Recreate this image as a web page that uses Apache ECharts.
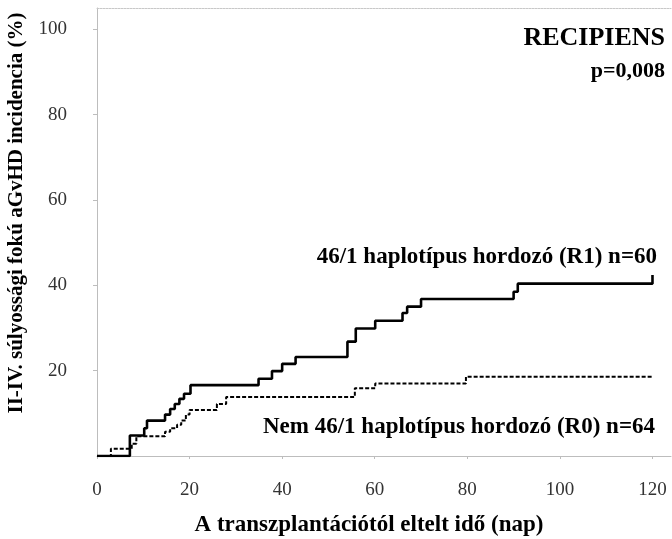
<!DOCTYPE html>
<html>
<head>
<meta charset="utf-8">
<script src="https://cdn.jsdelivr.net/npm/echarts@6/dist/echarts.min.js"></script>
<style>
html,body{margin:0;padding:0;background:#fff;}
#chart{width:672px;height:539px;}
</style>
</head>
<body>
<div id="chart"></div>
<script>
// Data
var r1Days = [0, 7.1, 10.2, 10.8, 14.7, 15.8, 16.8, 17.8, 18.8, 20.2, 34.9, 37.8, 40.0, 42.9, 54.1, 55.9, 60.1, 66.0, 67.0, 70.0, 90.0, 90.9, 120];
var r1Vals = [0, 4.8, 6.5, 8.3, 9.7, 11.0, 12.2, 13.4, 14.6, 16.6, 18.1, 19.9, 21.6, 23.2, 26.8, 29.9, 31.7, 33.5, 35.0, 36.8, 38.5, 40.4, 42.4];
var r0Days = [0, 3.0, 7.5, 8.5, 14.7, 15.8, 17.3, 18.2, 19.2, 20.0, 25.9, 27.9, 55.7, 60.1, 79.7, 120];
var r0Vals = [0, 1.7, 2.9, 4.6, 5.7, 6.5, 7.3, 8.3, 9.7, 10.8, 12.2, 13.8, 15.9, 17.0, 18.6, 18.6];
var xTicks = [0, 20, 40, 60, 80, 100, 120];
var yTicks = [20, 40, 60, 80, 100];
var r1Label = '46/1 haplotípus hordozó (R1) n=60';
var r0Label = 'Nem 46/1 haplotípus hordozó (R0) n=64';
var panelTitle = 'RECIPIENS';
var pValue = 'p=0,008';
var xTitle = 'A transzplantációtól eltelt idő (nap)';
var yTitle = 'II-IV. súlyossági fokú aGvHD incidencia (%)';

function pairs(xs, ys){ return xs.map(function(x,i){ return [x, ys[i]]; }); }

var FONT = '"Liberation Serif","Times New Roman",serif';
var chart = echarts.init(document.getElementById('chart'), null, {renderer:'canvas'});
chart.setOption({
  animation: false,
  backgroundColor: '#fff',
  grid: {left: 97, right: 1, top: 8, bottom: 83},
  xAxis: [{
    type: 'value', min: 0, max: 124,
    axisLine: {show: true, lineStyle: {color: '#bdbdbd', width: 1}},
    axisTick: {show: true, customValues: xTicks, length: 3, lineStyle: {color: '#bdbdbd'}},
    axisLabel: {customValues: xTicks, margin: 25, fontFamily: FONT, fontSize: 19, color: '#333'},
    splitLine: {show: false}
  },{
    type: 'value', min: 0, max: 124, position: 'top',
    axisLine: {show: true, onZero: false, lineStyle: {color: '#c8c8c8', width: 1, type: [2,1]}},
    axisTick: {show: false}, axisLabel: {show: false}, splitLine: {show: false}
  }],
  yAxis: {
    type: 'value', min: 0, max: 105,
    axisLine: {show: true, lineStyle: {color: '#bdbdbd', width: 1}},
    axisTick: {show: true, customValues: yTicks, length: 4, lineStyle: {color: '#bdbdbd'}},
    axisLabel: {customValues: yTicks, margin: 30, fontFamily: FONT, fontSize: 19, color: '#333'},
    splitLine: {show: false}
  },
  series: [{
    type: 'line', step: 'end', showSymbol: false, xAxisIndex: 0,
    data: pairs(r1Days, r1Vals),
    lineStyle: {color: '#000', width: 2.6}
  },{
    type: 'line', step: 'end', showSymbol: false, xAxisIndex: 0,
    data: pairs(r0Days, r0Vals),
    lineStyle: {color: '#000', width: 2, type: [4,2]}
  }],
  graphic: [
    {type:'text', x:17, y:213, rotation: Math.PI/2, style:{text: yTitle, font:'bold 21px ' + FONT, fill:'#000', align:'center', verticalAlign:'middle'}},
    {type:'text', x:369, y:525, style:{text: xTitle, font:'bold 23px ' + FONT, fill:'#000', align:'center', verticalAlign:'middle'}},
    {type:'text', x:665, y:38, style:{text: panelTitle, font:'bold 26px ' + FONT, fill:'#000', align:'right', verticalAlign:'middle'}},
    {type:'text', x:665, y:71, style:{text: pValue, font:'bold 22px ' + FONT, fill:'#000', align:'right', verticalAlign:'middle'}},
    {type:'text', x:657, y:257, style:{text: r1Label, font:'bold 23px ' + FONT, fill:'#000', align:'right', verticalAlign:'middle'}},
    {type:'text', x:655, y:427, style:{text: r0Label, font:'bold 23px ' + FONT, fill:'#000', align:'right', verticalAlign:'middle'}}
  ]
});
</script>
</body>
</html>
